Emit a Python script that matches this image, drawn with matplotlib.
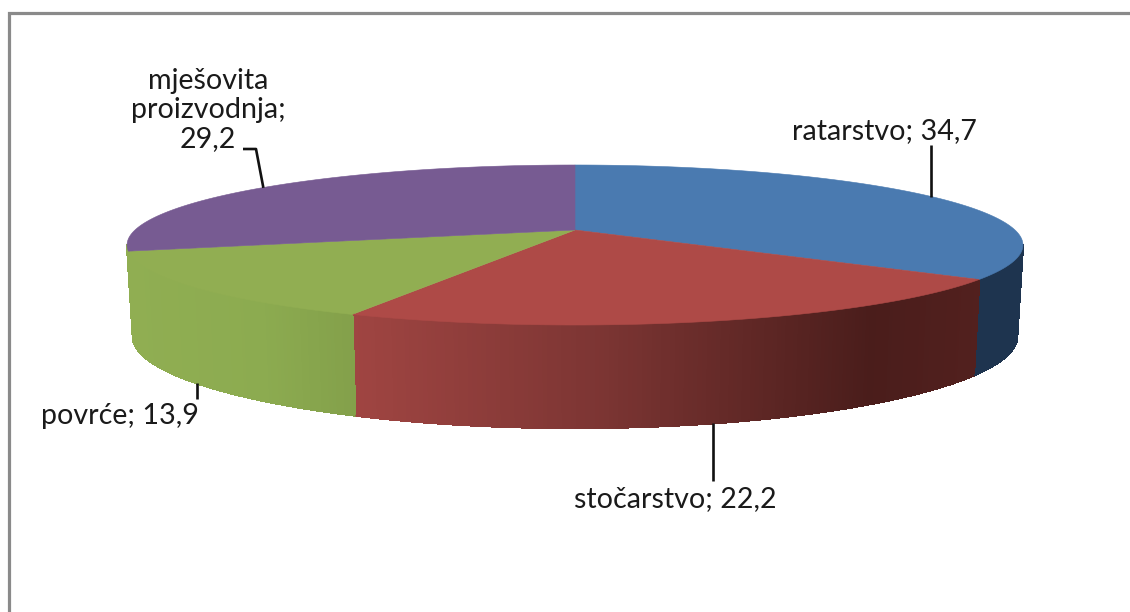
import numpy as np
import matplotlib
matplotlib.use('Agg')
import matplotlib.pyplot as plt
from matplotlib.collections import LineCollection, PolyCollection
from matplotlib.colors import to_rgb
from matplotlib.patches import Polygon

# data
labels = ['ratarstvo; 34,7', 'stočarstvo; 22,2', 'povrće; 13,9', 'mješovita\nproizvodnja;\n29,2']
values = [34.7, 22.2, 13.9, 29.2]

top_colors = ['#4a7ab0', '#ae4a47', '#91ae52', '#775b92']
# wall shading, (pixel x, colour) along each slice
wall_x = [[975, 1023], [350, 600, 870, 980], [125, 260, 355], [125, 135]]
wall_colors = [['#1e344f', '#1e344f'],
               ['#a04542', '#7c3533', '#4a1d1b', '#52201e'],
               ['#90ae52', '#8cab50', '#83a04a'],
               ['#90ae52', '#90ae52']]

# geometry of the tilted disc, in pixels
cx, cy = 575, 230
rx, ry = 440, 77.2
persp = 0.1875
shrink = 0.987
cy_low, ry_low, persp_low = 320.3, 84.0, 0.22


def top_xy(theta):
    u, v = np.sin(theta), -np.cos(theta)
    w = 1 - persp * v
    return cx + rx * u / w, cy + ry * v / w


def low_xy(theta):
    u, v = np.sin(theta), -np.cos(theta)
    return (cx + shrink * rx * u / (1 - persp * v),
            cy_low + ry_low * v / (1 - persp_low * v))


def shade(x, xs, cols):
    rgb = np.array([to_rgb(c) for c in cols])
    return [np.interp(x, xs, rgb[:, i]) for i in range(3)]


fig = plt.figure(figsize=(11.3, 6.12), dpi=100)
ax = fig.add_axes([0, 0, 1, 1])
ax.set_xlim(0, 1130)
ax.set_ylim(612, 0)
ax.axis('off')

# frame, only top and left show
ax.plot([9, 9, 1130], [612, 13, 13], color='#8a8a8a', lw=2.3, solid_joinstyle='miter')

edges = np.radians(np.concatenate([[0], np.cumsum(values)]) * 3.6)
front_start = np.arccos(-persp)   # where the side wall starts to be seen
front_end = 2 * np.pi - front_start

# side walls
for i in range(len(values)):
    a = max(edges[i], front_start)
    b = min(edges[i + 1], front_end)
    if b <= a:
        continue
    th = np.linspace(a, b, max(int(np.degrees(b - a) * 2), 2))
    tx, ty = top_xy(th)
    lx, ly = low_xy(th)
    quads = []
    rims = []
    cols = []
    for j in range(len(th) - 1):
        quads.append([(tx[j], ty[j]), (tx[j + 1], ty[j + 1]), (lx[j + 1], ly[j + 1]), (lx[j], ly[j])])
        rims.append([(lx[j], ly[j]), (lx[j + 1], ly[j + 1])])
        cols.append(shade((tx[j] + tx[j + 1]) / 2, wall_x[i], wall_colors[i]))
    ax.add_collection(PolyCollection(quads, facecolors=cols, edgecolors=cols, linewidths=1.0,
                                     antialiaseds=False, zorder=2))
    # smooth lower edge over the stepped strips
    ax.add_collection(LineCollection(rims, colors=cols, linewidths=1.0, zorder=2.5))

# top of the slices
for i in range(len(values)):
    th = np.linspace(edges[i], edges[i + 1], 200)
    tx, ty = top_xy(th)
    pts = np.column_stack([np.r_[cx, tx], np.r_[cy, ty]])
    ax.add_patch(Polygon(pts, closed=True, facecolor=top_colors[i], edgecolor=top_colors[i], lw=0.4, zorder=3))

# leader lines start at the middle of each slice
mid = (edges[:-1] + edges[1:]) / 2
line_kw = dict(color='#111111', lw=1.9, solid_capstyle='butt', zorder=4)

x0, y0 = top_xy(mid[0])
ax.plot([x0 - 3, x0 - 3], [y0, 145], **line_kw)
x1, y1 = low_xy(mid[1])
ax.plot([x1, x1], [y1, 481], **line_kw)
x2, y2 = low_xy(mid[2])
ax.plot([x2, x2], [y2, 399], **line_kw)
x3, y3 = top_xy(mid[3])
ax.plot([x3 + 2, 256, 243], [y3, 149, 149], **line_kw)

# labels
text_kw = dict(fontsize=20.6, family=['Lato', 'DejaVu Sans'], color='#1a1a1a', zorder=5)
ax.text(884, 131, labels[0], ha='center', va='center', **text_kw)
ax.text(675, 499, labels[1], ha='center', va='center', **text_kw)
ax.text(120, 416, labels[2], ha='center', va='center', **text_kw)
ax.text(208, 110, labels[3], ha='center', va='center', linespacing=1.146, **text_kw)

fig.savefig('out.png', dpi=100)
